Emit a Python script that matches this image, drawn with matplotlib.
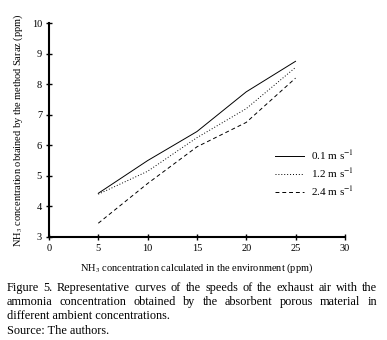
import matplotlib
matplotlib.use("Agg")
import matplotlib.pyplot as plt

plt.rcParams['font.family'] = ['Liberation Serif', 'DejaVu Serif']
plt.rcParams['mathtext.fontset'] = 'stix'

# data
conc = [5, 10, 15, 20, 25]
v01 = [4.43, 5.5, 6.45, 7.75, 8.75]
v12 = [4.4, 5.15, 6.25, 7.2, 8.55]
v24 = [3.45, 4.75, 5.95, 6.75, 8.2]
labels = [r'0.1 m s$^{-1}$', r'1.2 m s$^{-1}$', r'2.4 m s$^{-1}$']

fig = plt.figure(figsize=(3.87, 3.4), dpi=100)
ax = fig.add_axes([0.1266, 0.303, 0.7644, 0.629])

ax.plot(conc, v01, color='black', lw=0.7, ls='-', label=labels[0])
ax.plot(conc, v12, color='black', lw=0.7, ls=(0, (1, 2)), label=labels[1])
ax.plot(conc, v24, color='black', lw=0.7, ls=(0, (4, 3)), label=labels[2])

ax.set_xlim(0, 30)
ax.set_ylim(3, 10)
ax.set_xticks(range(0, 31, 5))
ax.set_yticks(range(3, 11))
ax.spines['top'].set_visible(False)
ax.spines['right'].set_visible(False)
ax.spines['left'].set_linewidth(1.5)
ax.spines['bottom'].set_linewidth(1.5)
ax.tick_params(direction='inout', length=4, width=1, labelsize=7.5, pad=3)

ax.set_xlabel(r'NH$_3$ concentration calculated in the environment (ppm)', fontsize=7.5, labelpad=6)
ax.set_ylabel(r'NH$_3$ concentration obtained by the method Saraz (ppm)', fontsize=7.5, labelpad=5)

ax.legend(loc='upper left', bbox_to_anchor=(0.73, 0.46), frameon=False, fontsize=8,
          handlelength=2.6, handletextpad=0.6, labelspacing=0.35)

# caption, justified lines
cap_lines = [
    "Figure 5. Representative curves of the speeds of the exhaust air with the",
    "ammonia concentration obtained by the absorbent porous material in",
    "different ambient concentrations.",
    "Source: The authors.",
]
x0, x1 = 7 / 387, 377 / 387
ys = [288, 302, 316, 331]
fig.canvas.draw()
r = fig.canvas.get_renderer()
for i, (line, yp) in enumerate(zip(cap_lines, ys)):
    y = 1 - yp / 340
    if i < 2:
        words = line.split()
        ts = [fig.text(0, y, w, fontsize=8.8, va='center') for w in words]
        widths = [t.get_window_extent(r).width / fig.bbox.width for t in ts]
        gap = (x1 - x0 - sum(widths)) / (len(words) - 1)
        x = x0
        for t, w in zip(ts, widths):
            t.set_x(x)
            x += w + gap
    else:
        fig.text(x0, y, line, fontsize=8.8, va='center')

fig.savefig('out.png', dpi=100)
